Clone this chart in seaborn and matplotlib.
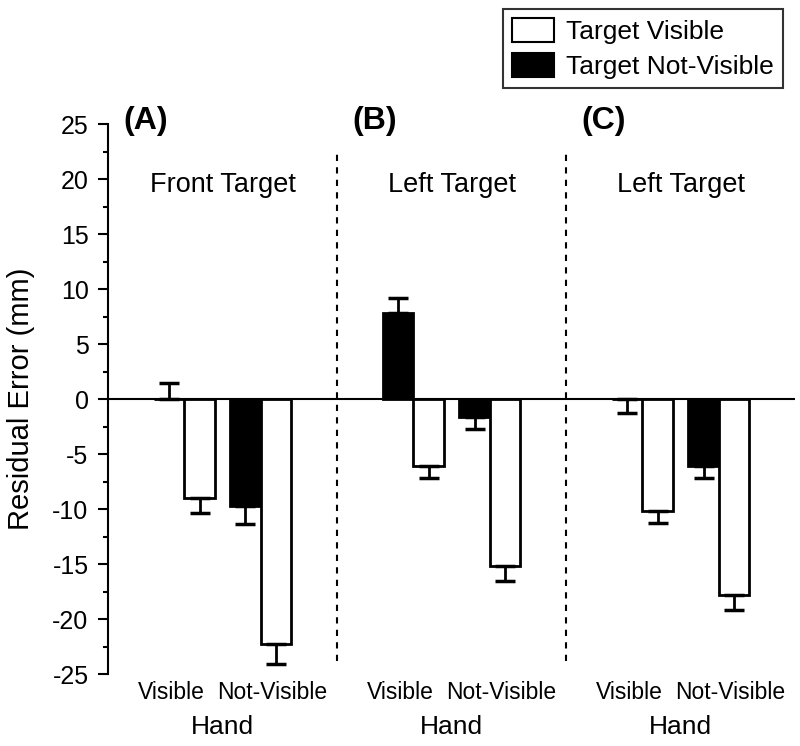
import matplotlib
matplotlib.use('Agg')
import matplotlib.pyplot as plt
import matplotlib.transforms as mtrans
import numpy as np
import pandas as pd
import seaborn as sns
from matplotlib.patches import Patch

# data (mm)
panels = ['(A)', '(B)', '(C)']
panel_titles = ['Front Target', 'Left Target', 'Left Target']
hands = ['Visible', 'Not-Visible']
targets = ['Target Not-Visible', 'Target Visible']

# order: panel -> hand -> target (Not-Visible, Visible)
means = [0.0, -9.0, -9.7, -22.3,
         7.8, -6.1, -1.6, -15.2,
         0.0, -10.2, -6.1, -17.8]
sems = [1.5, 1.4, 1.7, 1.8,
        1.4, 1.1, 1.1, 1.3,
        1.3, 1.1, 1.1, 1.4]
# which way each error bar points (+1 up, -1 down)
err_dir = [1, -1, -1, -1,
           1, -1, -1, -1,
           -1, -1, -1, -1]

rows = []
i = 0
for p in range(len(panels)):
    for h in range(len(hands)):
        for t in targets:
            rows.append({'panel': p, 'hand': hands[h], 'target': t,
                         'pos': p * 3 + h + 1, 'value': means[i],
                         'sem': sems[i], 'dir': err_dir[i]})
            i += 1
df = pd.DataFrame(rows)

sns.set_style('ticks')
plt.rcParams['font.family'] = ['Liberation Sans', 'DejaVu Sans']
plt.rcParams['axes.unicode_minus'] = False
for key in ['text.color', 'axes.labelcolor', 'xtick.color', 'ytick.color']:
    plt.rcParams[key] = 'black'

fig = plt.figure(figsize=(8, 7.46), dpi=100)
ax = fig.add_axes([0.135, 0.0965, 0.859, 0.737])

sns.barplot(data=df, x='pos', y='value', hue='target', hue_order=targets,
            palette={'Target Not-Visible': 'black', 'Target Visible': 'white'},
            native_scale=True, edgecolor='black', linewidth=2,
            errorbar=None, legend=False, width=0.8, ax=ax)

# one-sided error bars pointing away from zero
for cont, label in zip(ax.containers, targets):
    sub = df[df['target'] == label].sort_values('pos')
    for bar, (_, row) in zip(cont, sub.iterrows()):
        x = bar.get_x() + bar.get_width() / 2
        err = [[0], [row['sem']]] if row['dir'] > 0 else [[row['sem']], [0]]
        ax.errorbar(x, row['value'], yerr=err, fmt='none', ecolor='black',
                    elinewidth=2, capsize=7, capthick=2.5, zorder=1)

ax.axhline(0, color='black', lw=1.5, zorder=3)
for p in range(1, len(panels)):
    ax.vlines(p * 3, -23.8, 22.5, colors='black', lw=1.5,
              linestyles=(0, (3, 3)))

for p in range(len(panels)):
    ax.text(p * 3 + 0.2, 25.3, panels[p], fontsize=23, fontweight='bold',
            va='center', ha='left')
    ax.text(p * 3 + 1.5, 19.5, panel_titles[p], fontsize=19.5,
            va='center', ha='center')
    ax.text(p * 3 + 1.5, -0.097, 'Hand', fontsize=19, va='center',
            ha='center', transform=ax.get_xaxis_transform())

ax.set_xlim(0, 9)
ax.set_ylim(-25, 25)
ax.set_yticks(np.arange(-25, 26, 5))
ax.set_yticks(np.arange(-25, 26, 2.5), minor=True)
ax.tick_params(axis='y', which='major', length=7, width=1.5, labelsize=18,
               direction='out', color='black', pad=7)
ax.tick_params(axis='y', which='minor', length=3.5, width=1.5,
               direction='out', color='black')
ax.set_xticks(sorted(df['pos'].unique()))
ax.set_xticklabels(hands * len(panels), fontsize=16.5)
ax.tick_params(axis='x', length=0, pad=5)
# nudge the hand labels apart like the original
for k, lab in enumerate(ax.get_xticklabels()):
    dx = -9.5 if k % 2 == 0 else 8.5
    lab.set_transform(lab.get_transform() +
                      mtrans.ScaledTranslation(dx / 72, 0, fig.dpi_scale_trans))
ax.set_xlabel('')
ax.set_ylabel('Residual Error (mm)', fontsize=21)
ax.yaxis.set_label_coords(-0.106, 0.5)

sns.despine(ax=ax, bottom=True)
ax.spines['left'].set_linewidth(1.5)
ax.spines['left'].set_color('black')

handles = [Patch(facecolor='white', edgecolor='black', lw=1.5, label='Target Visible'),
           Patch(facecolor='black', edgecolor='black', lw=1.5, label='Target Not-Visible')]
leg = fig.legend(handles=handles, loc='upper right',
                 bbox_to_anchor=(0.979, 0.988), borderaxespad=0, fontsize=19,
                 frameon=True, fancybox=False, edgecolor='black',
                 handlelength=1.6, handleheight=1.0, labelspacing=0.35,
                 borderpad=0.35, handletextpad=0.45)
leg.get_frame().set_linewidth(1.5)

fig.savefig('out.png', dpi=100)
